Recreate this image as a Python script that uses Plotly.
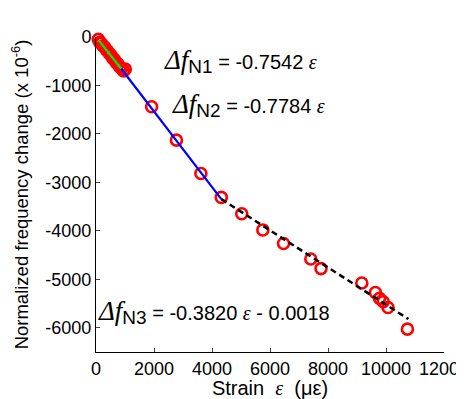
import plotly.graph_objects as go

# Measured data (strain in microstrain, normalized frequency change x1e-6)
strain = [80, 130, 180, 230, 290, 350, 400, 460, 520, 580, 640, 700, 760, 820, 880, 950, 1010,
          1918, 2773, 3617, 4321, 5025, 5753, 6467, 7407, 7759,
          9166, 9634, 9775, 9905, 10070, 10739]
dfreq = [-50, -110, -130, -180, -200, -260, -290, -340, -380, -440, -470, -530, -560, -620, -650, -700, -663,
         -1440, -2128, -2816, -3310, -3648, -3981, -4262, -4580, -4779,
         -5075, -5272, -5393, -5462, -5583, -6028]

# Fit line endpoints
fit1_x = [100, 870]
fit1_y = [-75, -656]
fit2_x = [870, 4321]
fit2_y = [-656, -3345]
fit3_x = [4321, 10773]
fit3_y = [-3345, -5820]

x_ticks = [0, 2000, 4000, 6000, 8000, 10000, 12000]
x_labels = ["0", "2000", "4000", "6000", "8000", "10000", "12000"]
y_ticks = [0, -1000, -2000, -3000, -4000, -5000, -6000]
y_labels = ["0", "-1000", "-2000", "-3000", "-4000", "-5000", "-6000"]

FONT = "Liberation Sans, Arial, sans-serif"
SERIF = "Liberation Serif, Times New Roman, serif"

fig = go.Figure()
fig.add_trace(go.Scatter(x=strain, y=dfreq, mode="markers",
                         marker=dict(symbol="circle-open", size=11, color="#ff0000",
                                     line=dict(width=2.6, color="#ff0000")),
                         cliponaxis=False, showlegend=False))
fig.add_trace(go.Scatter(x=fit1_x, y=fit1_y, mode="lines",
                         line=dict(color="#00ee00", width=2.2), showlegend=False))
fig.add_trace(go.Scatter(x=fit2_x, y=fit2_y, mode="lines",
                         line=dict(color="#0000ff", width=2.2), showlegend=False))
fig.add_trace(go.Scatter(x=fit3_x, y=fit3_y, mode="lines",
                         line=dict(color="#000000", width=2.5, dash="6px,4px"), showlegend=False))

def eq(label, rhs):
    return (f"<span style='font-family:{SERIF};font-size:27px'><i>Δf</i></span>"
            f"<sub><span style='font-size:19px'>{label}</span></sub>"
            f" = {rhs}")

eps = f"<span style='font-family:{SERIF}'><i>ε</i></span>"
ann_font = dict(family=FONT, size=20, color="black")
fig.add_annotation(x=2270, y=-487, xref="x", yref="y", xanchor="left", yanchor="middle",
                   text=eq("N1", f"-0.7542 {eps}"), showarrow=False, font=ann_font)
fig.add_annotation(x=2551, y=-1397, xref="x", yref="y", xanchor="left", yanchor="middle",
                   text=eq("N2", f"-0.7784 {eps}"), showarrow=False, font=ann_font)
fig.add_annotation(x=0, y=-5675, xref="x", yref="y", xanchor="left", yanchor="middle",
                   text=eq("N3", f"-0.3820 {eps} - 0.0018"), showarrow=False, font=ann_font)

# page body has an 8px margin: figure origin sits at (8, 8)
fig.update_layout(
    width=456, height=391,
    margin=dict(l=87.5, r=19.5, t=29, b=47),
    paper_bgcolor="white", plot_bgcolor="white",
    font=dict(family=FONT, size=18, color="black"),
    xaxis=dict(range=[0, 12000], tickvals=x_ticks, ticktext=x_labels, ticks="inside", ticklen=4,
               showgrid=False, zeroline=False, showline=True, linecolor="black", linewidth=1,
               tickfont=dict(size=18), automargin=False, ticklabeloverflow="allow",
               title=dict(text=f"Strain  {eps}  (με)", font=dict(size=20), standoff=10)),
    yaxis=dict(range=[-6500, 0], tickvals=y_ticks, ticktext=y_labels, ticks="inside", ticklen=4,
               showgrid=False, zeroline=False, showline=True, linecolor="black", linewidth=1,
               tickfont=dict(size=18), automargin=False,
               title=dict(text="Normalized frequency change (x 10<sup>-6</sup>)", font=dict(size=18.5), standoff=15)),
)

fig.write_html("out.html")
